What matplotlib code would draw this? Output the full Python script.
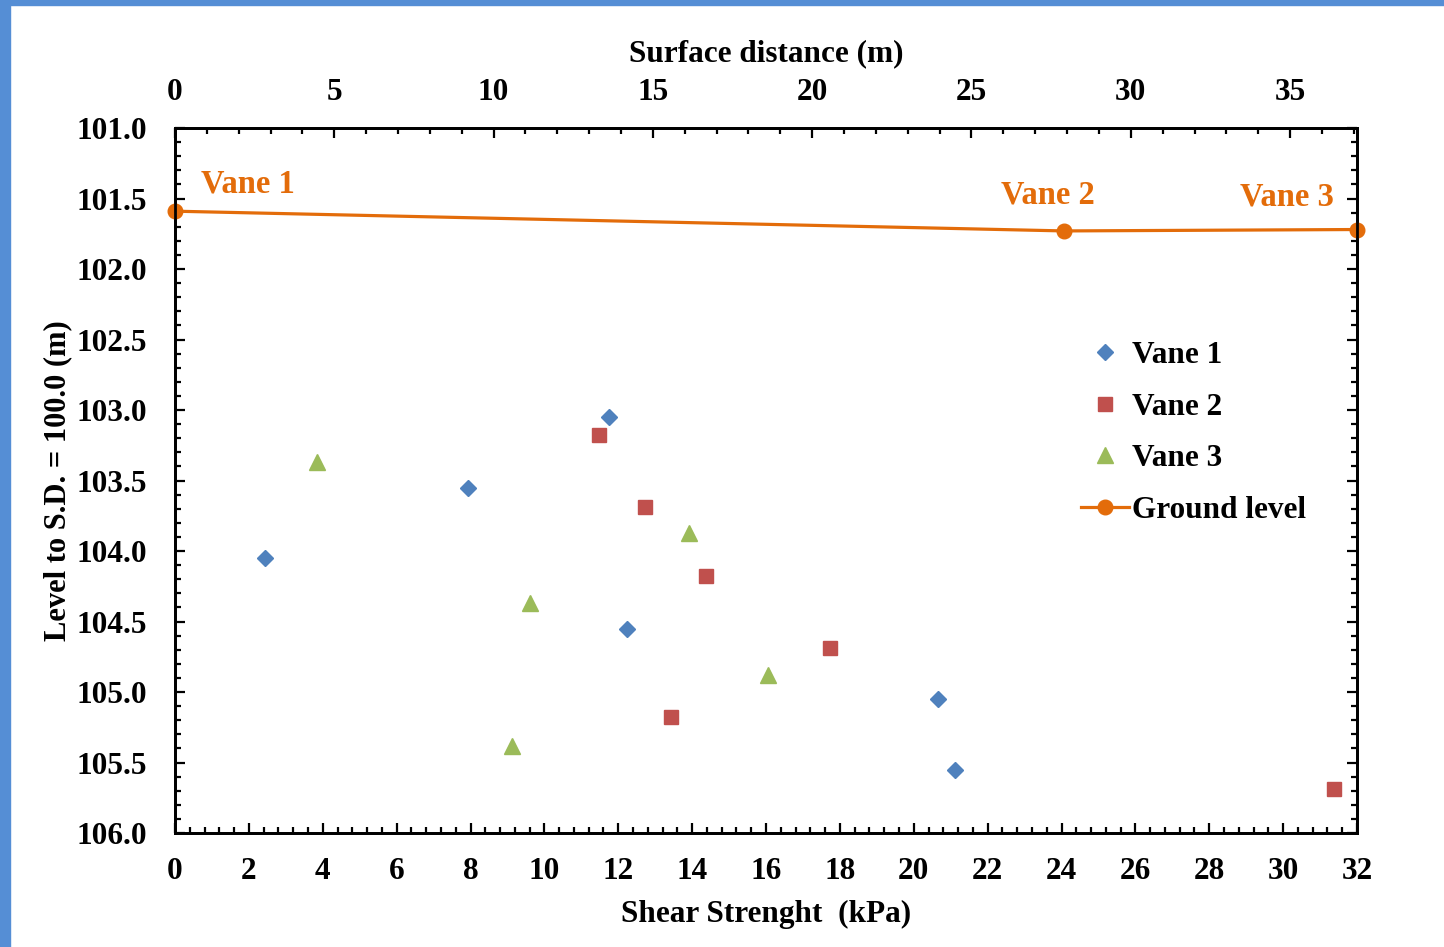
import matplotlib
matplotlib.use("Agg")
import matplotlib.pyplot as plt
from matplotlib.patches import Rectangle
from matplotlib.ticker import MultipleLocator

plt.rcParams['font.family'] = ['Liberation Serif', 'DejaVu Serif']
plt.rcParams['font.weight'] = 'bold'

# shear strength (kPa) vs level (m)
vane1_strength = [11.75, 7.93, 2.44, 12.24, 20.66, 21.12]
vane1_level = [103.05, 103.55, 104.05, 104.55, 105.05, 105.55]

vane2_strength = [11.48, 12.72, 14.38, 17.73, 13.43, 31.38]
vane2_level = [103.18, 103.69, 104.18, 104.69, 105.18, 105.69]

vane3_strength = [3.84, 13.92, 9.61, 16.05, 9.12]
vane3_level = [103.37, 103.87, 104.37, 104.88, 105.38]

# ground level along surface distance
ground_dist = [0.0, 27.9, 37.1]
ground_level = [101.59, 101.73, 101.72]
ground_names = ["Vane 1", "Vane 2", "Vane 3"]
name_x = [2.3, 27.4, 34.9]
name_y = [101.40, 101.475, 101.49]

orange = '#E36C0A'

fig = plt.figure(figsize=(14.44, 9.47), dpi=100)
fig.patches.append(Rectangle((0, 0), 10 / 1444, 1, transform=fig.transFigure,
                             color='#558ED5', zorder=0))
fig.patches.append(Rectangle((0, 1 - 5 / 947), 1, 5 / 947, transform=fig.transFigure,
                             color='#558ED5', zorder=0))

ax = fig.add_axes([175 / 1444, 1 - 833 / 947, 1182 / 1444, 705 / 947])
ax2 = ax.twiny()

h1, = ax.plot(vane1_strength, vane1_level, 'D', color='#4F81BD', ms=8.5, ls='none', label='Vane 1')
h2, = ax.plot(vane2_strength, vane2_level, 's', color='#C0504D', ms=10, ls='none', label='Vane 2')
h3, = ax.plot(vane3_strength, vane3_level, '^', color='#9BBB59', ms=11, ls='none', label='Vane 3')

h4, = ax2.plot(ground_dist, ground_level, '-o', color=orange, lw=2.3, ms=10.5,
               clip_on=False, label='Ground level')
for nm, xx, yy in zip(ground_names, name_x, name_y):
    ax2.text(xx, yy, nm, color=orange, fontsize=23.5, fontweight='bold',
             ha='center', va='center')

ax.set_xlim(0, 32)
ax.set_ylim(106.0, 101.0)
ax2.set_xlim(0, 37.1)

ax.xaxis.set_major_locator(MultipleLocator(2))
ax.xaxis.set_minor_locator(MultipleLocator(0.4))
ax.yaxis.set_major_locator(MultipleLocator(0.5))
ax.yaxis.set_minor_locator(MultipleLocator(0.1))
ax.yaxis.set_major_formatter(matplotlib.ticker.FormatStrFormatter('%.1f'))
ax2.xaxis.set_major_locator(MultipleLocator(5))
ax2.xaxis.set_minor_locator(MultipleLocator(1))

ax.tick_params(which='both', direction='in', right=True, top=False, width=1.6, labelsize=22.5)
ax.tick_params(which='major', length=7)
ax.tick_params(which='minor', length=4.5)
ax.tick_params(axis='x', pad=17)
ax.tick_params(axis='y', pad=20)
ax2.tick_params(which='both', direction='in', width=1.6, labelsize=22.5, pad=15)
ax2.tick_params(which='major', length=7)
ax2.tick_params(which='minor', length=4.5)

for a in (ax, ax2):
    for sp in a.spines.values():
        sp.set_linewidth(2)

ax.set_xlabel("Shear Strenght  (kPa)", fontsize=22.5, fontweight='bold', labelpad=10)
ax.set_ylabel("Level to S.D. = 100.0 (m)", fontsize=22, fontweight='bold', labelpad=3)
ax2.set_xlabel("Surface distance (m)", fontsize=22.5, fontweight='bold', labelpad=12)

fig.legend([h1, h2, h3, h4], ['Vane 1', 'Vane 2', 'Vane 3', 'Ground level'],
           loc='center left', bbox_to_anchor=(1065 / 1444, 1 - 433 / 947),
           frameon=False, fontsize=22.5, handlelength=1.55, handletextpad=0.1,
           labelspacing=0.72, borderpad=0)

fig.savefig("out.png", dpi=100)
